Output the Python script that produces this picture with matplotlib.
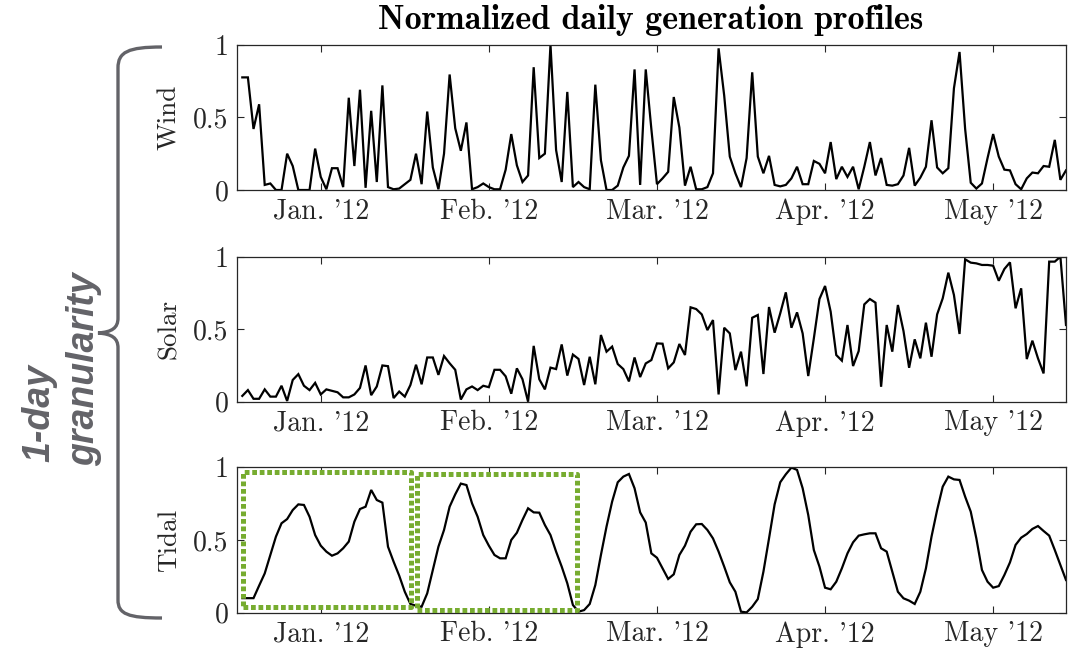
import matplotlib
matplotlib.use('Agg')
import matplotlib.pyplot as plt
from matplotlib.path import Path
from matplotlib.patches import PathPatch

# ---------------- data ----------------
wind = [0.775, 0.775, 0.42, 0.59, 0.035, 0.045, 0.0, 0.0, 0.25, 0.165,
        0.0, 0.0, 0.0, 0.285, 0.09, 0.005, 0.15, 0.15, 0.02, 0.635,
        0.165, 0.69, 0.015, 0.545, 0.055, 0.72, 0.02, 0.005, 0.01, 0.04,
        0.07, 0.25, 0.04, 0.54, 0.155, 0.005, 0.25, 0.795, 0.425, 0.27,
        0.465, 0.005, 0.02, 0.045, 0.02, 0.005, 0.005, 0.14, 0.385, 0.17,
        0.055, 0.1, 0.845, 0.22, 0.25, 1.0, 0.275, 0.055, 0.675, 0.02,
        0.055, 0.02, 0.005, 0.725, 0.205, 0.0, 0.0, 0.03, 0.155, 0.235,
        0.83, 0.035, 0.83,
        0.42, 0.04, 0.08, 0.125, 0.64, 0.43, 0.03, 0.16, 0.005, 0.005,
        0.02, 0.115, 0.975, 0.65, 0.23, 0.115, 0.02, 0.22, 0.81, 0.23,
        0.115, 0.235, 0.035, 0.025, 0.035, 0.08, 0.16, 0.04, 0.04, 0.2,
        0.18, 0.115, 0.33, 0.075, 0.16, 0.09, 0.16, 0.005, 0.16, 0.33,
        0.1, 0.22, 0.035, 0.03, 0.04, 0.1, 0.29, 0.03, 0.085, 0.16,
        0.48, 0.155, 0.115, 0.15, 0.7, 0.95, 0.42, 0.05, 0.01, 0.045,
        0.22, 0.385, 0.23, 0.14, 0.135, 0.04, 0.005, 0.08, 0.12, 0.115,
        0.165, 0.16, 0.345, 0.07, 0.135]

solar = [0.04, 0.08, 0.02, 0.02, 0.085, 0.035, 0.035, 0.11, 0.005, 0.15,
         0.19, 0.11, 0.08, 0.13, 0.05, 0.085, 0.075, 0.065, 0.03, 0.03,
         0.05, 0.095, 0.25, 0.045, 0.105, 0.25, 0.245, 0.025, 0.07, 0.035,
         0.115, 0.255, 0.12, 0.305, 0.305, 0.185, 0.315, 0.265, 0.22, 0.015,
         0.085, 0.105, 0.08, 0.11, 0.1, 0.22, 0.22, 0.175, 0.055, 0.23,
         0.155, 0.0, 0.385, 0.155, 0.085, 0.235, 0.225, 0.395, 0.18, 0.325,
         0.295, 0.115, 0.31, 0.12, 0.46, 0.345, 0.38, 0.26, 0.225, 0.14,
         0.305, 0.17,
         0.264, 0.287, 0.402, 0.40, 0.23, 0.271, 0.398, 0.322, 0.651, 0.639,
         0.602, 0.494, 0.563, 0.05, 0.51, 0.471, 0.218, 0.345, 0.106, 0.579,
         0.598, 0.191, 0.653, 0.476, 0.609, 0.754, 0.51, 0.616, 0.471, 0.177,
         0.437, 0.708, 0.798, 0.621, 0.322, 0.283, 0.529, 0.246, 0.349, 0.671,
         0.708, 0.683, 0.103, 0.529, 0.345, 0.667, 0.487, 0.234, 0.43, 0.299,
         0.545, 0.31, 0.602, 0.713, 0.89, 0.736, 0.467, 0.982, 0.959, 0.954,
         0.943, 0.943, 0.938, 0.834, 0.915, 0.961, 0.644, 0.782, 0.294, 0.421,
         0.299, 0.195, 0.966, 0.966, 1.0, 0.529]

tidal = [0.1, 0.1, 0.1, 0.186, 0.27, 0.397, 0.523, 0.615, 0.644, 0.706,
         0.745, 0.741, 0.66, 0.534, 0.461, 0.42, 0.392, 0.408, 0.443, 0.489,
         0.626, 0.713, 0.729, 0.844, 0.775, 0.757, 0.454, 0.351, 0.255, 0.144,
         0.06, 0.048, 0.041, 0.133, 0.294, 0.454, 0.569, 0.729, 0.814, 0.888,
         0.878, 0.752, 0.66, 0.534, 0.461, 0.397, 0.374, 0.374, 0.5, 0.55,
         0.638, 0.718, 0.69, 0.688, 0.603, 0.534, 0.42, 0.317, 0.202, 0.053,
         0.007, 0.018, 0.06, 0.19, 0.397, 0.592, 0.764, 0.897, 0.936, 0.954,
         0.856, 0.69, 0.62,
         0.408, 0.378, 0.305, 0.232, 0.264, 0.397, 0.461, 0.557, 0.608, 0.61,
         0.569, 0.511, 0.42, 0.317, 0.209, 0.144, 0.007, 0.002, 0.041, 0.094,
         0.282, 0.511, 0.745, 0.897, 0.952, 0.998, 0.982, 0.856, 0.672, 0.431,
         0.317, 0.172, 0.161, 0.213, 0.305, 0.408, 0.484, 0.53, 0.539, 0.546,
         0.546, 0.443, 0.42, 0.282, 0.144, 0.099, 0.083, 0.06, 0.144, 0.305,
         0.523, 0.706, 0.867, 0.936, 0.917, 0.913, 0.798, 0.695, 0.511, 0.294,
         0.213, 0.172, 0.183, 0.259, 0.346, 0.466, 0.516, 0.541, 0.576, 0.596,
         0.562, 0.53, 0.431, 0.328, 0.225]

days = list(range(1, len(wind) + 1))
series_names = ['Wind', 'Solar', 'Tidal']
tick_days = [15, 45, 75, 105, 135]
tick_labels = ["Jan. '12", "Feb. '12", "Mar. '12", "Apr. '12", "May '12"]
ytick_vals = [0, 0.5, 1]
ytick_labels = ['0', '0.5', '1']
# highlighted windows on the tidal panel: (day start, day end, y low, y high)
box1 = [1.18, 31.1, 0.037, 0.966]
box2 = [32.2, 60.7, 0.019, 0.954]
title = 'Normalized daily generation profiles'

# ---------------- style ----------------
plt.rcParams['font.family'] = 'cmr10'
plt.rcParams['axes.formatter.use_mathtext'] = True
plt.rcParams['mathtext.fontset'] = 'cm'

W, H = 1076, 653
fig = plt.figure(figsize=(W / 100, H / 100), dpi=100)


def fx(x):
    return x / W


def fy(y):
    return 1 - y / H


AX_L, AX_R = 236.7, 1066.0
panels = [(44.7, 190.0), (256.7, 401.7), (467.3, 612.7)]
spine_col = '#262626'
axes = []
for (top, bot), name, vals in zip(panels, series_names, [wind, solar, tidal]):
    ax = fig.add_axes([fx(AX_L), fy(bot), (AX_R - AX_L) / W, (bot - top) / H])
    ax.plot(days, vals, color='black', lw=1.6, solid_joinstyle='miter')
    ax.set_xlim(0, 148)
    ax.set_ylim(0, 1)
    ax.set_yticks(ytick_vals)
    ax.set_yticklabels(ytick_labels)
    ax.set_xticks(tick_days)
    ax.set_xticklabels(tick_labels)
    ax.tick_params(direction='in', top=True, right=True, length=5, width=0.8,
                   color=spine_col, labelcolor=spine_col, labelsize=20)
    ax.tick_params(axis='y', pad=6)
    ax.tick_params(axis='x', pad=6)
    for s in ax.spines.values():
        s.set_color(spine_col)
        s.set_linewidth(0.9)
    ax.set_ylabel(name, fontsize=19.5, color=spine_col)
    ax.yaxis.set_label_coords(-0.067, 0.5)
    axes.append(ax)

# dotted green windows on tidal panel
axT = axes[2]
for b in (box1, box2):
    x0, x1, y0, y1 = b
    axT.plot([x0, x1, x1, x0, x0], [y0, y0, y1, y1, y0], color='#77AC30',
             lw=3.6, linestyle=(0, (0.95, 0.55)), dash_capstyle='butt',
             clip_on=False, zorder=3)

fig.text(fx(651), fy(20), title, ha='center', va='center', family='cmb10',
         fontsize=24.5, color='black')

# curly brace
gray = '#636368'
pts = [(162, 47), (128, 47), (118, 52), (118, 68),
       (118, 318),
       (118, 328), (112, 332), (98, 333),
       (112, 334), (118, 338), (118, 348),
       (118, 600),
       (118, 614), (128, 618), (162, 618)]
codes = [Path.MOVETO, Path.CURVE4, Path.CURVE4, Path.CURVE4,
         Path.LINETO,
         Path.CURVE4, Path.CURVE4, Path.CURVE4,
         Path.CURVE4, Path.CURVE4, Path.CURVE4,
         Path.LINETO,
         Path.CURVE4, Path.CURVE4, Path.CURVE4]
path = Path([(fx(x), fy(y)) for x, y in pts], codes)
fig.add_artist(PathPatch(path, transform=fig.transFigure, facecolor='none',
                         edgecolor=gray, lw=2.4, capstyle='butt'))

fig.text(fx(39), fy(462), '1-day', rotation=90, ha='center', va='bottom',
         family='Liberation Sans', weight='bold', style='italic', fontsize=27,
         color=gray)
fig.text(fx(84), fy(466), 'granularity', rotation=90, ha='center', va='bottom',
         family='Liberation Sans', weight='bold', style='italic', fontsize=27,
         color=gray)

fig.savefig('out.png', dpi=100)
